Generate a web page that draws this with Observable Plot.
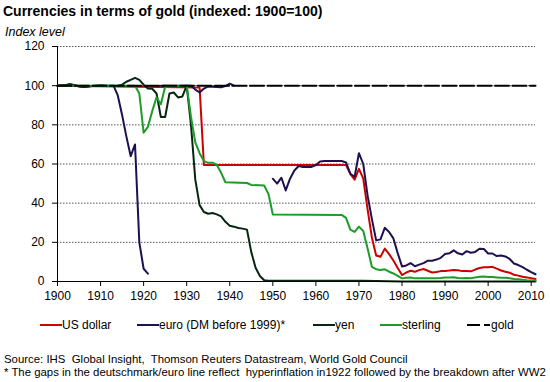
<!DOCTYPE html>
<html><head><meta charset="utf-8">
<script src="https://cdn.jsdelivr.net/npm/d3@7"></script>
<script src="https://cdn.jsdelivr.net/npm/@observablehq/plot@0.6"></script>
<style>
body{margin:0;background:#fff;font-family:"Liberation Sans",Arial,sans-serif;color:#000}
#wrap{position:relative;width:550px;height:382px;overflow:hidden;background:#fff}
.abs{position:absolute;white-space:pre}
#title{left:3px;top:2px;font-weight:bold;font-size:14px;line-height:18px}
#ylab{left:5px;top:25px;font-style:italic;font-size:12.5px;line-height:14px}
#chart{position:absolute;left:0;top:40px}
.leg{position:absolute;top:318px;font-size:12px;line-height:14px;display:flex;align-items:center;white-space:pre}
.leg svg{display:block}
.foot{left:4px;font-size:11.4px;line-height:13px}
</style></head>
<body><div id="wrap">
<div id="title" class="abs">Currencies in terms of gold (indexed: 1900=100)</div>
<div id="ylab" class="abs">Index level</div>
<div id="chart"></div>
<div id="legend"></div>
<div class="abs foot" style="top:353px">Source: IHS  Global Insight,  Thomson Reuters Datastream, World Gold Council</div>
<div class="abs foot" style="top:366px">* The gaps in the deutschmark/euro line reflect  hyperinflation in1922 followed by the breakdown after WW2</div>
</div>
<script>
// ---- axis ticks ----
const xTicks = [1900, 1910, 1920, 1930, 1940, 1950, 1960, 1970, 1980, 1990, 2000, 2010];
const yTicks = [0, 20, 40, 60, 80, 100, 120];

// ---- series names / colours ----
const seriesNames = ["US dollar", "euro (DM before 1999)*", "yen", "sterling", "gold"];
const seriesColors = ["#cc0000", "#1f1150", "#07260f", "#1c9c28", "#000000"];

// ---- gold ----
const goldYears = [1900, 2011];
const goldValues = [100, 100];

// ---- US dollar ----
const usdYears = [1900, 1933, 1934, 1967, 1968, 1969, 1970, 1971, 1972, 1973, 1974, 1975, 1976, 1977, 1978, 1979,
  1980, 1981, 1982, 1983, 1984, 1985, 1986, 1987, 1988, 1989, 1990, 1991, 1992, 1993, 1994, 1995, 1996, 1997, 1998, 1999,
  2000, 2001, 2002, 2003, 2004, 2005, 2006, 2007, 2008, 2009, 2010, 2011];
const usdValues = [100, 99, 59.5, 59.5, 55, 52, 57.5, 52.5, 37, 22.5, 13.3, 12.6, 16.8, 14, 10.7, 6.9,
  3.3, 4.6, 5.5, 5, 5.8, 6.4, 5.5, 4.6, 4.8, 5.3, 5.4, 5.6, 5.9, 5.7, 5.3, 5.3, 5.2, 6.1, 6.9, 7.3,
  7.3, 7.5, 6.6, 5.6, 5, 4.5, 3.4, 3, 2.4, 2.1, 1.7, 1.3];

// ---- euro / Deutschmark (null = gap) ----
const eurYears = [1900, 1902, 1903, 1904, 1905, 1906, 1907, 1908, 1910, 1912, 1913, 1914, 1915, 1916, 1917, 1918, 1919, 1920, 1921, 1922,
  1924, 1931, 1932, 1933, 1934, 1935, 1936, 1937, 1938, 1939, 1940, 1941, 1942,
  1950, 1951, 1952, 1953, 1954, 1955, 1956, 1957, 1958, 1959, 1960, 1961, 1962, 1963, 1964, 1965, 1966, 1967, 1968, 1969,
  1970, 1971, 1972, 1973, 1974, 1975, 1976, 1977, 1978, 1979, 1980, 1981, 1982, 1983, 1984, 1985, 1986, 1987, 1988, 1989,
  1990, 1991, 1992, 1993, 1994, 1995, 1996, 1997, 1998, 1999, 2000, 2001, 2002, 2003, 2004, 2005, 2006, 2007, 2008, 2009,
  2010, 2011];
const eurValues = [100, 100.4, 100.8, 100.2, 99.6, 99.3, 99.5, 99.8, 100.2, 100, 100, 95, 85, 74, 64, 70, 20, 6.5, 4, null,
  100, 100, 98, 96.5, 98.5, 99.6, 99.5, 99.3, 99.2, 99.8, 101, 100, null,
  52.5, 50, 53, 46.5, 52.5, 56.7, 59, 58.5, 58.5, 58.5, 59.5, 61.3, 61.5, 61.5, 61.5, 61.5, 61.5, 60.8, 55, 53.5,
  65.5, 60, 44, 32, 21, 21.5, 27.4, 25.3, 22, 14.5, 7.7, 8.2, 9.4, 7.8, 8.6, 9.4, 10.6, 10.6, 11.2, 12.1,
  14, 14.4, 15.9, 14.4, 13.8, 15.5, 14.7, 15.1, 16.7, 16.6, 14.3, 14.3, 13, 13.3, 12.8, 11.5, 9.2, 8.4, 7.3, 6,
  4.8, 3.7];

// ---- yen ----
const yenYears = [1900, 1902, 1903, 1905, 1906, 1908, 1914, 1915, 1916, 1917, 1918, 1919, 1920, 1921, 1922, 1923, 1924,
  1925, 1926, 1927, 1928, 1929, 1930, 1931, 1932, 1933, 1934, 1935, 1936, 1937, 1938, 1939, 1940, 1941, 1942, 1943, 1944,
  1945, 1946, 1947, 1948, 1949, 1971, 1980, 2011];
const yenValues = [100, 100.3, 100.6, 99.7, 99.5, 99.8, 100, 100.5, 102, 103, 104, 103, 100.5, 98.5, 98.4, 96, 84,
  84, 96, 96.5, 94, 94.5, 100, 80, 52, 39, 35.5, 34.6, 35, 34.3, 33.3, 30.5, 28.5, 28, 27.3, 27, 26.5,
  15, 7, 2.8, 0.6, 0.35, 0.35, 0.05, 0.03];

// ---- sterling ----
const gbpYears = [1900, 1917, 1918, 1919, 1920, 1921, 1922, 1923, 1924, 1925, 1930, 1931, 1932, 1933, 1934, 1935, 1936,
  1937, 1938, 1939, 1944, 1945, 1948, 1949, 1950, 1966, 1967, 1968, 1969, 1970, 1971, 1972, 1973, 1974, 1975, 1976, 1977,
  1978, 1979, 1980, 1981, 1982, 1983, 1984, 1985, 1986, 1987, 1988, 1989, 1990, 1991, 1992, 1993, 1994, 1995, 1996, 1997,
  1998, 1999, 2000, 2001, 2002, 2003, 2004, 2005, 2006, 2007, 2008, 2009, 2010, 2011];
const gbpValues = [100, 100, 100, 96, 76, 79, 87, 94, 90.5, 99.5, 100, 84, 71, 65.5, 61.5, 60.6, 60.7,
  59.5, 55.5, 50.7, 50.3, 49.3, 49, 44.6, 34.2, 34, 32.5, 26.5, 25.3, 28, 25.8, 17, 7.5, 6.3, 5.9, 6.2, 5,
  4.1, 2.9, 1.6, 1.9, 2, 1.6, 1.6, 1.7, 1.7, 1.6, 1.7, 1.8, 2, 2.1, 2.2, 1.8, 1.7, 1.8, 1.7, 2.1,
  2.4, 2.5, 2.3, 2.3, 2.1, 1.9, 1.9, 1.7, 1.3, 1.2, 0.9, 0.7, 0.55, 0.45];

// ---- build tables ----
const toRows = (years, values) => years.map((year, i) => ({year, value: values[i]}));
const usd = toRows(usdYears, usdValues);
const eur = toRows(eurYears, eurValues);
const yen = toRows(yenYears, yenValues);
const gbp = toRows(gbpYears, gbpValues);
const gold = toRows(goldYears, goldValues);

const lineOpts = (color, extra = {}) => ({x: "year", y: "value", stroke: color, strokeWidth: 2, curve: "linear", ...extra});

const plot = Plot.plot({
  width: 550,
  height: 271,
  marginLeft: 57,
  marginRight: 15,
  marginTop: 6,
  marginBottom: 30,
  style: {fontFamily: "'Liberation Sans', Arial, sans-serif", fontSize: "12px", color: "#000", background: "#fff", overflow: "visible"},
  x: {domain: [1900, 2011], axis: null},
  y: {domain: [0, 120], axis: null},
  marks: [
    Plot.ruleY(yTicks.filter(d => d > 0), {stroke: "#555", strokeWidth: 1, strokeDasharray: "1.5,1.5"}),
    Plot.line(usd, lineOpts(seriesColors[0])),
    Plot.line(eur, lineOpts(seriesColors[1])),
    Plot.line(yen, lineOpts(seriesColors[2])),
    Plot.line(gbp, lineOpts(seriesColors[3])),
    Plot.line(gold, lineOpts(seriesColors[4], {strokeDasharray: "14,3.5"})),
    Plot.ruleX([1900], {y1: 0, y2: 120, stroke: "#000", strokeWidth: 1}),
    Plot.ruleY([0], {x1: 1900, x2: 2011, stroke: "#000", strokeWidth: 1}),
    Plot.axisY({ticks: yTicks, tickSize: 5, tickPadding: 8, tickFormat: d => String(d), stroke: "#000", label: null}),
    Plot.axisX({ticks: xTicks, tickSize: 5, tickPadding: 5, tickFormat: d => String(d), stroke: "#000", label: null})
  ]
});
document.getElementById("chart").appendChild(plot);

// ---- legend ----
const legendLeft = [40, 137, 313, 380, 467];
const legend = document.getElementById("legend");
seriesNames.forEach((name, i) => {
  const item = document.createElement("div");
  item.className = "leg";
  item.style.left = legendLeft[i] + "px";
  const isGold = i === 4;
  const w = isGold ? 24 : 22;
  const dash = isGold ? ' stroke-dasharray="13,4,6,20"' : '';
  item.innerHTML = `<svg width="${w}" height="10"><line x1="0" x2="${w}" y1="5" y2="5" stroke="${seriesColors[i]}" stroke-width="2"${dash}/></svg><span>${name}</span>`;
  legend.appendChild(item);
});
</script>
</body></html>
